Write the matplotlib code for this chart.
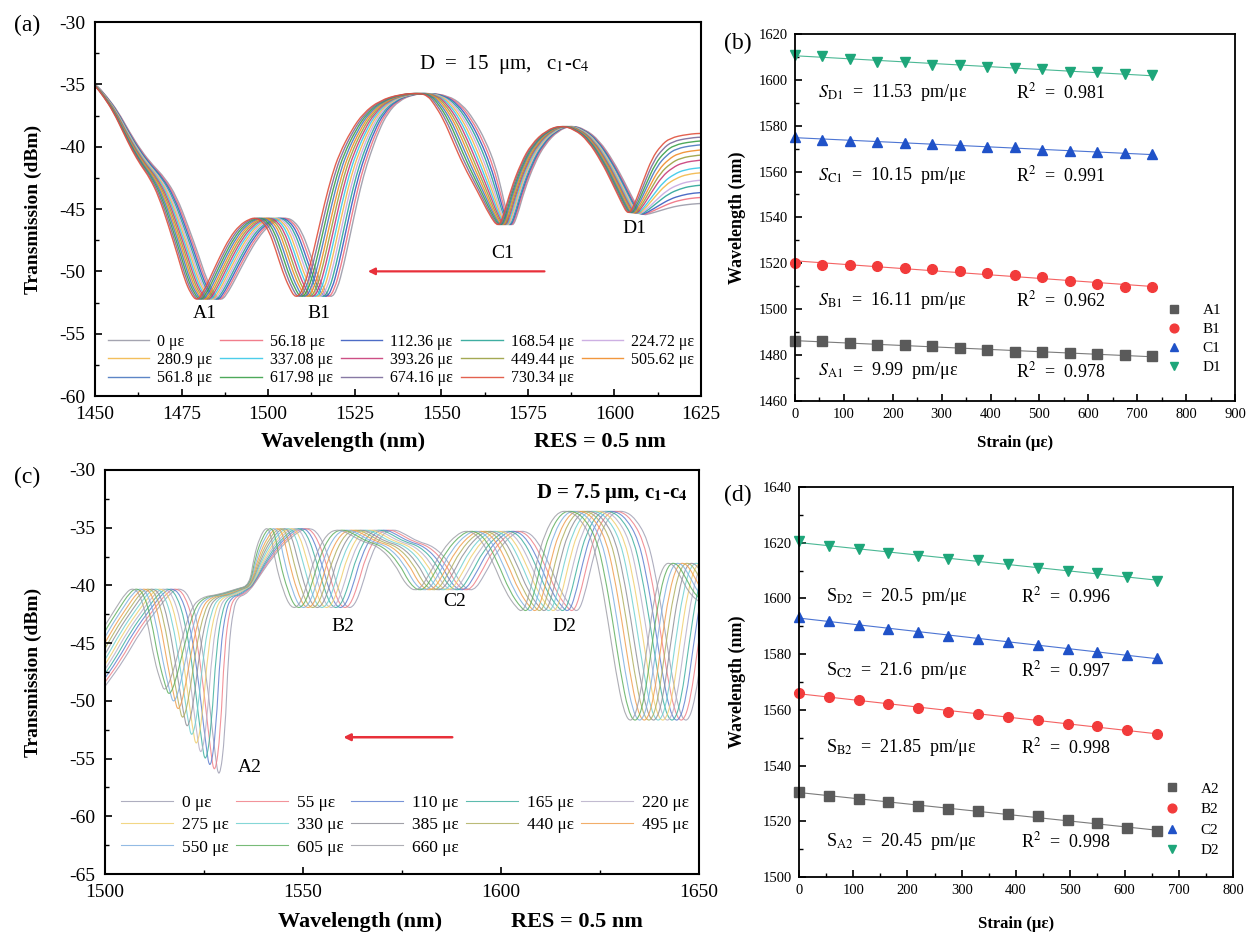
import numpy as np
import matplotlib
matplotlib.use("Agg")
import matplotlib.pyplot as plt
from matplotlib.ticker import MultipleLocator
from matplotlib.path import Path
from matplotlib.patches import PathPatch
from matplotlib.lines import Line2D

plt.rcParams['font.family'] = ['Liberation Serif', 'DejaVu Serif']
plt.rcParams['mathtext.fontset'] = 'stix'
plt.rcParams['axes.unicode_minus'] = False

# ---------------- (a) spectra, D = 15 um ----------------
strain_a = [0, 56.18, 112.36, 168.54, 224.72, 280.9, 337.08,
            393.26, 449.44, 505.62, 561.8, 617.98, 674.16, 730.34]
colors_a = ['#9a9aa8', '#f07080', '#3a5cc0', '#2aa598', '#c8a8e0', '#f2b84a', '#38c8e8',
            '#c83c78', '#9aa040', '#f08c28', '#4a78c0', '#3aa048', '#7a6a9a', '#e0503c']
# middle trace of the bundle
base_a_wl = [1440, 1445, 1450, 1453, 1456, 1459, 1462, 1465, 1468, 1471, 1474, 1477, 1479,
             1481, 1483, 1485, 1487, 1490, 1493, 1496, 1499, 1501, 1503, 1505, 1507, 1509,
             1511, 1513, 1515, 1517, 1519, 1521, 1523, 1525, 1528, 1531, 1535, 1540, 1545,
             1549, 1552, 1555, 1558, 1561, 1564, 1566.5, 1568.5, 1570, 1572, 1575, 1578,
             1582, 1586, 1590, 1594, 1598, 1601, 1604, 1606, 1608, 1611, 1614, 1617, 1620,
             1625, 1630, 1640]
base_a_db = [-33, -34, -35, -36, -37.2, -38.8, -40.3, -41.5, -42.5, -44, -46.3, -48.8, -50.6,
             -51.8, -52.4, -51.6, -50.5, -48.8, -47.3, -46.3, -45.8, -45.7, -46, -46.8, -48.3,
             -50, -51.3, -52.2, -51.5, -49.5, -47, -44.5, -42.3, -40.6, -38.7, -37.3, -36.3,
             -35.8, -35.7, -35.9, -36.6, -37.8, -39.5, -41.5, -43.6, -45.5, -46.5, -45.5,
             -43.5, -41.3, -39.8, -38.7, -38.3, -38.6, -39.5, -41.2, -42.8, -44.5, -45.5,
             -44.7, -42.8, -41, -40, -39.4, -39.1, -39, -39]
# total spread of the bundle (0 -> max strain) along the wavelength axis
spread_a_wl = [1440, 1450, 1460, 1470, 1483, 1500, 1513, 1525, 1540, 1545, 1552, 1560,
               1568, 1578, 1588, 1606, 1620, 1640]
spread_a_nm = [0, 0.5, 2, 5, 7, 9, 10, 9, 4, 3, 8, 10, 4, 4, 3, 4, 8, 8]
# level each trace reaches beyond D1 (right edge of panel a)
tail_a_db = [-44.5, -44.0, -43.6, -43.0, -42.6, -42.0, -41.6, -41.0, -40.6, -40.2, -39.8,
             -39.5, -39.2, -38.9]

# ---------------- (b) dip tracking, D = 15 um ----------------
strain_b = strain_a
A1 = [1486.3, 1486.0, 1485.4, 1484.3, 1484.3, 1483.8, 1483.1, 1482.1, 1481.5, 1481.4, 1481.0, 1480.4, 1479.9, 1479.5]
B1 = [1520.2, 1519.4, 1519.1, 1518.8, 1518.0, 1517.5, 1516.6, 1515.7, 1515.1, 1514.0, 1512.2, 1511.2, 1509.7, 1509.5]
C1 = [1575.2, 1573.8, 1573.5, 1573.0, 1572.6, 1572.0, 1571.4, 1570.7, 1570.7, 1569.2, 1569.0, 1568.5, 1568.0, 1567.5]
D1 = [1611.0, 1610.2, 1609.2, 1607.9, 1607.9, 1606.6, 1606.3, 1605.4, 1605.1, 1604.5, 1603.5, 1603.2, 1602.6, 1602.2]
sens_b = ['9.99', '16.11', '10.15', '11.53']
r2_b = ['0.978', '0.962', '0.991', '0.981']

# ---------------- (c) spectra, D = 7.5 um ----------------
strain_c = [0, 55, 110, 165, 220, 275, 330, 385, 440, 495, 550, 605, 660]
colors_c = ['#a0a0b4', '#f08088', '#6080d0', '#40b0a0', '#b8b0c8', '#f0d070', '#70d0d0',
            '#909098', '#b0b060', '#f0a050', '#80b0e0', '#60b060', '#a0a0a8']
base_c_wl = [1486, 1490, 1493, 1496, 1500, 1504, 1508, 1511, 1513, 1515, 1517, 1519, 1521,
             1522, 1523.5, 1525, 1527, 1529, 1532, 1535, 1537, 1540, 1543, 1546, 1548, 1550,
             1552, 1554, 1556, 1558, 1560, 1563, 1566, 1569, 1572, 1576, 1580, 1583, 1586,
             1589, 1592, 1596, 1599, 1602, 1605, 1608, 1611, 1612.5, 1614, 1616, 1618, 1621,
             1624, 1627, 1630, 1632, 1634, 1636, 1638, 1640, 1642, 1644, 1646, 1648, 1650,
             1652, 1655, 1660]
base_c_db = [-54, -52, -50, -48.5, -46.5, -44, -42, -40.6, -40.2, -40.8, -43, -47, -51.5,
             -53, -50.5, -45.5, -42, -41, -40.8, -40.3, -40, -37.5, -35.8, -34.9, -35.5, -38,
             -40.5, -42, -41.8, -40, -37.5, -35.5, -35.1, -35.6, -36.2, -36.6, -38, -40,
             -40.6, -39, -37, -35.5, -35.2, -36, -38, -40.5, -42, -42.3, -41, -38, -35.5,
             -33.7, -33.5, -34.2, -36, -39, -43, -47.5, -51, -52, -50, -45, -40.5, -38.2, -38,
             -39, -41, -42]
spread_c_wl = [1486, 1505, 1523, 1533, 1537, 1541, 1550, 1600, 1660]
spread_c_nm = [8, 10, 14, 6, 1, 6, 14, 14, 14]
# depth of the A2 dip for each trace
a2_depth = [-57.0, -56.6, -56.2, -55.6, -55.0, -54.2, -53.4, -52.6, -51.8, -51, -50.3, -49.6, -49.2]

# ---------------- (d) dip tracking, D = 7.5 um ----------------
strain_d = strain_c
A2 = [1530.4, 1529.2, 1528.0, 1526.8, 1525.6, 1524.5, 1523.7, 1522.6, 1521.8, 1520.5, 1519.3, 1517.6, 1516.4]
B2 = [1566.1, 1564.5, 1563.7, 1562.1, 1560.7, 1559.2, 1558.5, 1557.4, 1556.5, 1555.0, 1554.1, 1552.6, 1551.3]
C2 = [1593.3, 1591.8, 1590.6, 1589.1, 1587.9, 1586.6, 1585.6, 1584.3, 1583.2, 1582.0, 1580.9, 1579.7, 1578.5]
D2 = [1620.5, 1618.9, 1617.7, 1616.3, 1615.2, 1614.3, 1613.7, 1612.2, 1611.0, 1609.9, 1609.0, 1607.8, 1606.4]
sens_d = ['20.45', '21.85', '21.6', '20.5']
r2_d = ['0.998', '0.998', '0.997', '0.996']

marker_colors = ['#5a5a5a', '#f23b3b', '#2052c8', '#1ea67a']
markers = ['s', 'o', '^', 'v']


def legend_order(n, ncol):
    # reorder so matplotlib's column-wise legend reads row by row
    order = []
    for c in range(ncol):
        r = 0
        while r * ncol + c < n:
            order.append(r * ncol + c)
            r += 1
    return order


def style_axes(ax, lw=1.4, pad=6):
    for sp in ax.spines.values():
        sp.set_linewidth(lw)
    ax.tick_params(which='both', direction='in', top=False, right=False, pad=pad)
    ax.tick_params(which='major', length=5, width=1.2)
    ax.tick_params(which='minor', length=3, width=1.0)


def smooth_path(x, y):
    """Quadratic curve through the read points (drawn by matplotlib's Path)."""
    pts = np.column_stack([x, y])
    mids = (pts[:-1] + pts[1:]) / 2
    verts = [pts[0], mids[0]]
    codes = [Path.MOVETO, Path.LINETO]
    for i in range(1, len(pts) - 1):
        verts += [pts[i], mids[i]]
        codes += [Path.CURVE3, Path.CURVE3]
    verts.append(pts[-1])
    codes.append(Path.LINETO)
    return Path(verts, codes)


def spectra(ax, strains, colors, bwl, bdb, swl, snm, lw, alpha, depth=None, tail=None):
    bwl = np.array(bwl, float)
    bdb = np.array(bdb, float)
    sp = np.interp(bwl, swl, snm)
    smax = max(strains)
    handles = []
    for i, s in enumerate(strains):
        frac = 0.5 - s / smax
        x = bwl + frac * sp
        y = bdb.copy()
        if depth is not None:
            m = (y < -46) & (bwl > 1516) & (bwl < 1526)
            y[m] = -46 + (y[m] + 46) * (depth[i] + 46) / (-53 + 46)
        if tail is not None:
            m = bwl > 1606
            y[m] = -45.5 + (y[m] + 45.5) * (tail[i] + 45.5) / (-39 + 45.5)
        ax.add_patch(PathPatch(smooth_path(x, y), fill=False, edgecolor=colors[i],
                               lw=lw, alpha=alpha))
        handles.append(Line2D([], [], color=colors[i], lw=lw, alpha=alpha,
                              label=f'{s:g} με'))
    return handles


fig = plt.figure(figsize=(12.48, 9.34), dpi=100)

# ---- (a) ----
ax = fig.add_axes([0.0761, 0.576, 0.4856, 0.4004])
lines = spectra(ax, strain_a, colors_a, base_a_wl, base_a_db, spread_a_wl, spread_a_nm,
                1.0, 0.9, tail=tail_a_db)
ax.set_xlim(1450, 1625)
ax.set_ylim(-60, -30)
ax.xaxis.set_major_locator(MultipleLocator(25))
ax.xaxis.set_minor_locator(MultipleLocator(12.5))
ax.yaxis.set_major_locator(MultipleLocator(5))
ax.yaxis.set_minor_locator(MultipleLocator(2.5))
ax.tick_params(labelsize=14)
style_axes(ax, 1.5, 7)
ax.set_ylabel('Transmission (dBm)', fontsize=14, fontweight='bold')
ax.yaxis.set_label_coords(-0.087, 0.5)
ax.text(0.41, -0.123, 'Wavelength (nm)', transform=ax.transAxes, fontsize=16,
        fontweight='bold', ha='center', va='center')
ax.text(0.833, -0.123, 'RES = 0.5 nm', transform=ax.transAxes, fontsize=16,
        fontweight='bold', ha='center', va='center')
ax.text(1543.5, -33.4, 'D  =  15  μm,   c$_1$-c$_4$', fontsize=15, va='center')
for lab, x, y in [('A1', 1481.6, -53.4), ('B1', 1514.8, -53.4), ('C1', 1567.7, -48.6), ('D1', 1605.8, -46.6)]:
    ax.text(x, y, lab, fontsize=14, ha='center', va='center')
ax.annotate('', xy=(1528, -50), xytext=(1580.6, -50),
            arrowprops=dict(arrowstyle='-|>', color='#e8303a', lw=1.6, mutation_scale=10))
order = legend_order(len(lines), 5)
ax.legend([lines[k] for k in order], [lines[k].get_label() for k in order], ncol=5,
          loc='lower left', bbox_to_anchor=(0.005, 0.0, 1.0, 0.2), mode='expand',
          frameon=False, fontsize=11.5, handlelength=2.6, handletextpad=0.5,
          labelspacing=0.15, columnspacing=0.3, borderaxespad=0.2)

# ---- (b) ----
ax = fig.add_axes([0.637, 0.5707, 0.3526, 0.393])
series_b = [A1, B1, C1, D1]
names_b = ['A1', 'B1', 'C1', 'D1']
for k, ys in enumerate(series_b):
    p = np.polyfit(strain_b, ys, 1)
    ax.plot([strain_b[0], strain_b[-1]], np.polyval(p, [strain_b[0], strain_b[-1]]),
            color=marker_colors[k], lw=0.8, alpha=0.8)
    ax.plot(strain_b, ys, ls='none', marker=markers[k], ms=7, color=marker_colors[k],
            label=names_b[k], clip_on=False)
ax.set_xlim(0, 900)
ax.set_ylim(1460, 1620)
ax.xaxis.set_major_locator(MultipleLocator(100))
ax.xaxis.set_minor_locator(MultipleLocator(50))
ax.yaxis.set_major_locator(MultipleLocator(20))
ax.yaxis.set_minor_locator(MultipleLocator(10))
ax.tick_params(labelsize=10.5)
style_axes(ax, 1.3, 5)
ax.set_ylabel('Wavelength (nm)', fontsize=13, fontweight='bold')
ax.yaxis.set_label_coords(-0.111, 0.5)
ax.set_xlabel('Strain (με)', fontsize=12, fontweight='bold')
ax.xaxis.set_label_coords(0.5, -0.093)
for k, y in zip([3, 2, 1, 0], [1594.5, 1558.2, 1503.8, 1473.1]):
    ax.text(48, y, f'$S_{{\\mathrm{{{names_b[k]}}}}}$  =  {sens_b[k]}  pm/με',
            fontsize=13, va='center')
    ax.text(452, y, f'R$^2$  =  {r2_b[k]}', fontsize=13, va='center')
ax.legend(loc='lower right', bbox_to_anchor=(1.0, 0.035), frameon=False, fontsize=11,
          handletextpad=0.9, labelspacing=0.35, markerscale=0.9)

# ---- (c) ----
ax = fig.add_axes([0.0841, 0.0642, 0.476, 0.4326])
lines = spectra(ax, strain_c, colors_c, base_c_wl, base_c_db, spread_c_wl, spread_c_nm,
                0.8, 0.85, depth=a2_depth)
ax.set_xlim(1500, 1650)
ax.set_ylim(-65, -30)
ax.xaxis.set_major_locator(MultipleLocator(50))
ax.xaxis.set_minor_locator(MultipleLocator(25))
ax.yaxis.set_major_locator(MultipleLocator(5))
ax.yaxis.set_minor_locator(MultipleLocator(2.5))
ax.tick_params(labelsize=14)
style_axes(ax, 1.5, 7)
ax.set_ylabel('Transmission (dBm)', fontsize=14, fontweight='bold')
ax.yaxis.set_label_coords(-0.106, 0.5)
ax.text(0.43, -0.119, 'Wavelength (nm)', transform=ax.transAxes, fontsize=16,
        fontweight='bold', ha='center', va='center')
ax.text(0.795, -0.119, 'RES = 0.5 nm', transform=ax.transAxes, fontsize=16,
        fontweight='bold', ha='center', va='center')
ax.text(1647, -32.0, 'D = 7.5 μm, c$_\\mathbf{1}$-c$_\\mathbf{4}$', fontsize=15,
        fontweight='bold', ha='right', va='center')
for lab, x, y in [('A2', 1536.6, -55.75), ('B2', 1560.2, -43.6), ('C2', 1588.4, -41.4), ('D2', 1616, -43.6)]:
    ax.text(x, y, lab, fontsize=14, ha='center', va='center')
ax.annotate('', xy=(1559.5, -53.15), xytext=(1588.4, -53.15),
            arrowprops=dict(arrowstyle='-|>', color='#e8303a', lw=1.8, mutation_scale=10))
order = legend_order(len(lines), 5)
ax.legend([lines[k] for k in order], [lines[k].get_label() for k in order], ncol=5,
          loc='lower left', bbox_to_anchor=(0.01, 0.02, 0.99, 0.15), mode='expand',
          frameon=False, fontsize=12.5, handlelength=3.0, handletextpad=0.5,
          labelspacing=0.35, columnspacing=0.3, borderaxespad=0.2)

# ---- (d) ----
ax = fig.add_axes([0.6402, 0.061, 0.3478, 0.4176])
series_d = [A2, B2, C2, D2]
names_d = ['A2', 'B2', 'C2', 'D2']
for k, ys in enumerate(series_d):
    p = np.polyfit(strain_d, ys, 1)
    ax.plot([strain_d[0], strain_d[-1]], np.polyval(p, [strain_d[0], strain_d[-1]]),
            color=marker_colors[k], lw=0.8, alpha=0.8)
    ax.plot(strain_d, ys, ls='none', marker=markers[k], ms=7, color=marker_colors[k],
            label=names_d[k], clip_on=False)
ax.set_xlim(0, 800)
ax.set_ylim(1500, 1640)
ax.xaxis.set_major_locator(MultipleLocator(100))
ax.xaxis.set_minor_locator(MultipleLocator(50))
ax.yaxis.set_major_locator(MultipleLocator(20))
ax.yaxis.set_minor_locator(MultipleLocator(10))
ax.tick_params(labelsize=10.5)
style_axes(ax, 1.3, 5)
ax.set_ylabel('Wavelength (nm)', fontsize=13, fontweight='bold')
ax.yaxis.set_label_coords(-0.122, 0.5)
ax.set_xlabel('Strain (με)', fontsize=12, fontweight='bold')
ax.xaxis.set_label_coords(0.5, -0.1)
for k, y in zip([3, 2, 1, 0], [1600.8, 1574.1, 1546.5, 1512.8]):
    ax.text(50, y, f'S$_{{\\mathrm{{{names_d[k]}}}}}$  =  {sens_d[k]}  pm/με',
            fontsize=13, va='center')
    ax.text(410, y, f'R$^2$  =  {r2_d[k]}', fontsize=13, va='center')
ax.legend(loc='lower right', bbox_to_anchor=(1.0, 0.015), frameon=False, fontsize=11,
          handletextpad=0.9, labelspacing=0.45, markerscale=0.9)

# panel letters
for lab, x, y in [('(a)', 27, 25), ('(b)', 738, 43), ('(c)', 27, 477), ('(d)', 738, 495)]:
    fig.text(x / 1248, 1 - y / 934, lab, fontsize=17, ha='center', va='center')

fig.savefig('out.png', dpi=100)
